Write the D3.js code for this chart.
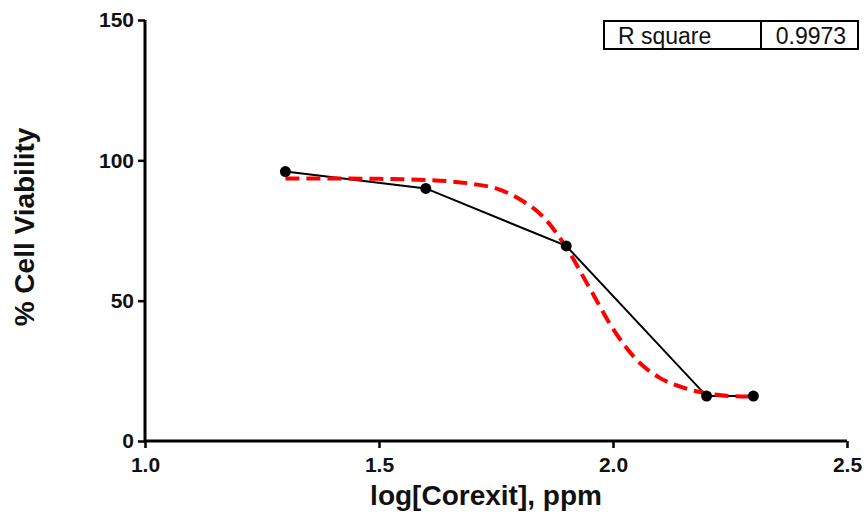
<!DOCTYPE html>
<html>
<head>
<meta charset="utf-8">
<script src="https://cdn.jsdelivr.net/npm/d3@7"></script>
<style>
  body { margin: 0; background: #fff; }
  text { font-family: "Liberation Sans", Arial, sans-serif; }
</style>
</head>
<body>
<div id="chart"></div>
<script>
// Observed data
const logDose = [1.3, 1.6, 1.9, 2.2, 2.3];
const viability = [96, 90, 69.5, 16, 16];

// Fitted curve
const fitX = [1.3, 1.4, 1.5, 1.6, 1.7, 1.75, 1.8, 1.85, 1.9, 1.95, 2.0, 2.05, 2.1, 2.15, 2.2, 2.25, 2.3];
const fitY = [93.5, 93.5, 93.4, 93.0, 91.6, 90, 86.2, 80, 69, 54.5, 40, 29, 22.5, 19, 17, 16, 15.8];

const xTicks = [1.0, 1.5, 2.0, 2.5];
const yTicks = [0, 50, 100, 150];
const rSquare = "0.9973";

const W = 865, H = 515;
const margin = {top: 20, right: 18, bottom: 74, left: 145};

const svg = d3.select("#chart").append("svg")
    .attr("width", W).attr("height", H);

const x = d3.scaleLinear().domain([1.0, 2.5]).range([margin.left, W - margin.right]);
const y = d3.scaleLinear().domain([0, 150]).range([H - margin.bottom, margin.top]);

// Axes
const xAxis = svg.append("g")
    .attr("transform", `translate(0,${y(0)})`)
    .call(d3.axisBottom(x).tickValues(xTicks).tickFormat(d3.format(".1f")).tickSizeOuter(0).tickSize(7).tickPadding(9));
const yAxis = svg.append("g")
    .attr("transform", `translate(${x(1.0)},0)`)
    .call(d3.axisLeft(y).tickValues(yTicks).tickSizeOuter(0).tickSize(7).tickPadding(4));

[xAxis, yAxis].forEach(g => {
  g.select(".domain").attr("stroke", "#000").attr("stroke-width", 3);
  g.selectAll(".tick line").attr("stroke", "#000").attr("stroke-width", 2.5);
  g.selectAll(".tick text")
    .attr("fill", "#111")
    .style("font-size", "21px")
    .style("font-weight", "bold");
});
xAxis.select(".domain").attr("d", `M${x(1.0)},0H${x(2.5)}`);
yAxis.select(".domain").attr("d", `M0,${y(0)}V${y(150)}`);

// Axis titles
svg.append("text")
    .attr("x", 486)
    .attr("y", 505)
    .attr("text-anchor", "middle")
    .style("font-size", "28px")
    .style("font-weight", "bold")
    .attr("fill", "#111")
    .text("log[Corexit], ppm");

svg.append("text")
    .attr("transform", `translate(34,227) rotate(-90)`)
    .attr("text-anchor", "middle")
    .style("font-size", "28px")
    .style("font-weight", "bold")
    .attr("fill", "#111")
    .text("% Cell Viability");

// Data line
const pts = logDose.map((d, i) => [d, viability[i]]);
svg.append("path")
    .datum(pts)
    .attr("fill", "none")
    .attr("stroke", "#000")
    .attr("stroke-width", 2)
    .attr("d", d3.line().x(d => x(d[0])).y(d => y(d[1])));

// Fit curve
const fit = fitX.map((d, i) => [d, fitY[i]]);
svg.append("path")
    .datum(fit)
    .attr("fill", "none")
    .attr("stroke", "#ff0000")
    .attr("stroke-width", 4)
    .attr("stroke-dasharray", "14,7")
    .attr("d", d3.line().curve(d3.curveMonotoneX).x(d => x(d[0])).y(d => y(d[1])));

// Points
svg.selectAll("circle.pt")
    .data(pts)
    .join("circle")
    .attr("class", "pt")
    .attr("cx", d => x(d[0]))
    .attr("cy", d => y(d[1]))
    .attr("r", 5.5)
    .attr("fill", "#000");

// R square table
const tb = svg.append("g").attr("transform", "translate(604,21)");
tb.append("rect").attr("width", 254).attr("height", 28)
    .attr("fill", "#fff").attr("stroke", "#000").attr("stroke-width", 2);
tb.append("line").attr("x1", 157).attr("x2", 157).attr("y1", 0).attr("y2", 28)
    .attr("stroke", "#000").attr("stroke-width", 2);
tb.append("text").attr("x", 14).attr("y", 23)
    .style("font-size", "23px").attr("fill", "#111").text("R square");
tb.append("text").attr("x", 207).attr("y", 23).attr("text-anchor", "middle")
    .style("font-size", "23px").attr("fill", "#111").text(rSquare);
</script>
</body>
</html>
